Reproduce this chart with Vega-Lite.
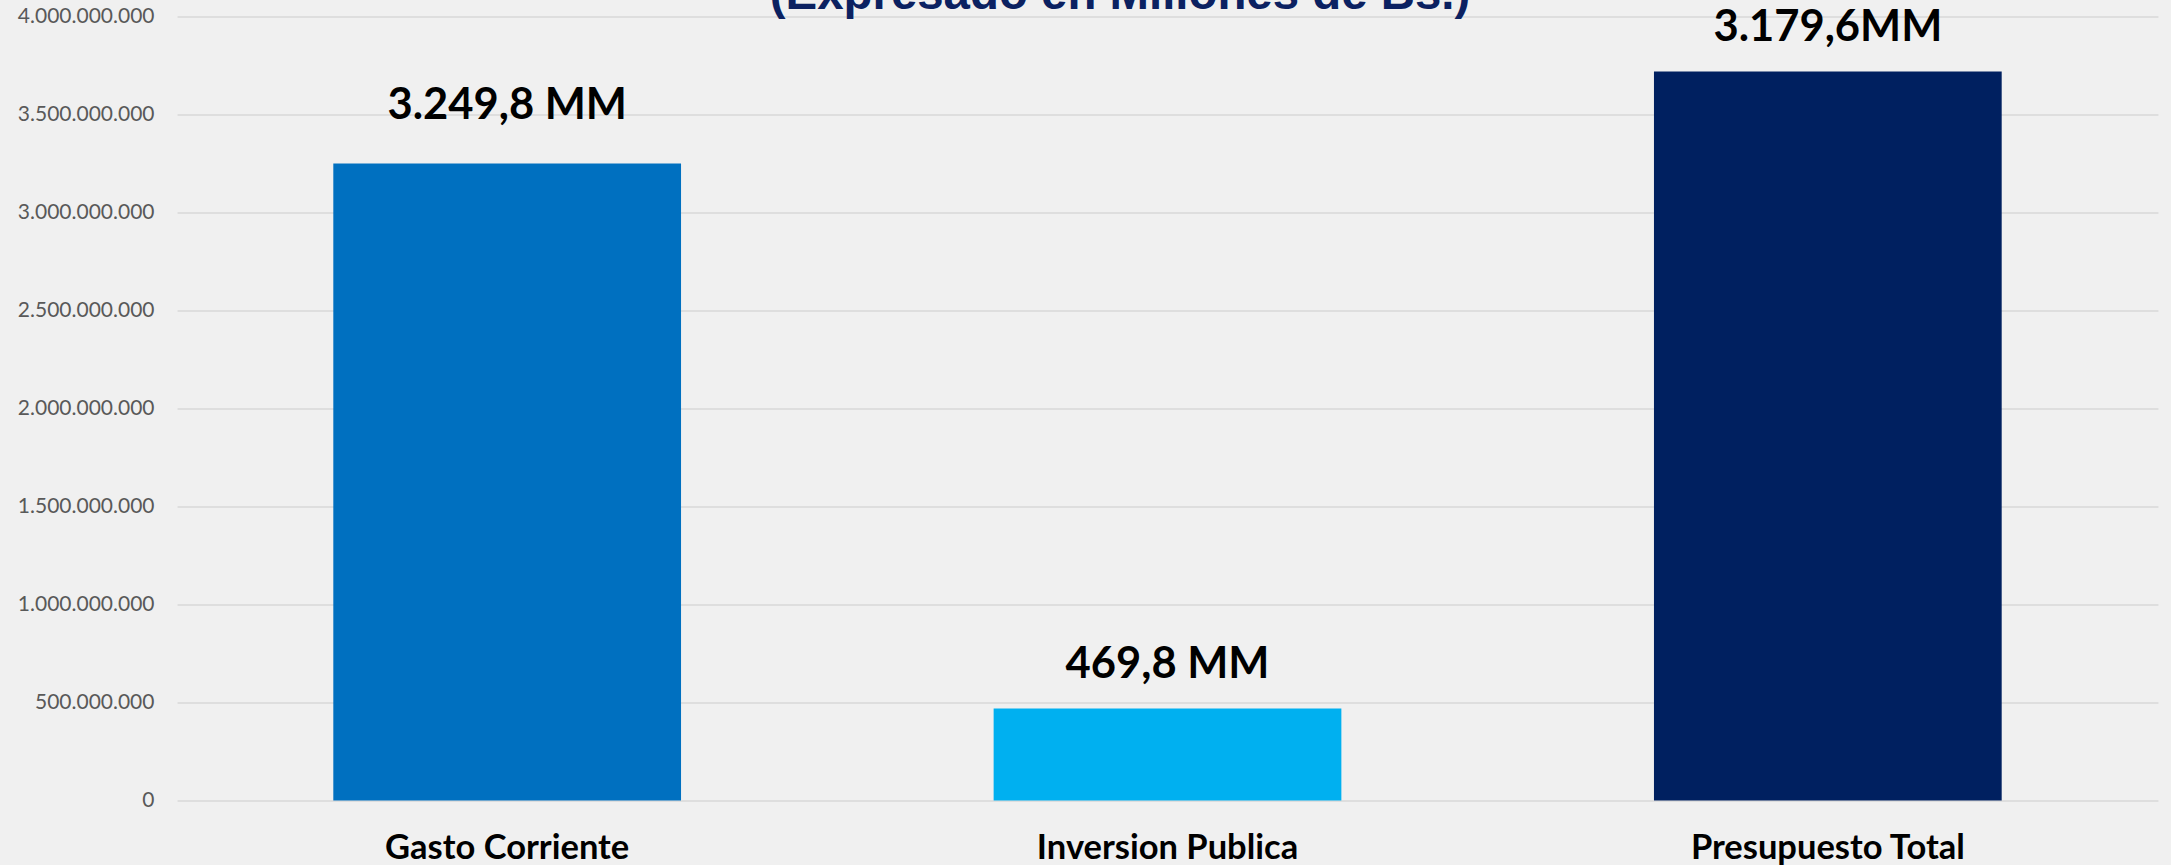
{
  "$schema": "https://vega.github.io/schema/vega-lite/v6.json",
  "autosize": {"type": "none"},
  "width": 1981,
  "height": 784,
  "padding": {"left": 177, "top": 16.5, "right": 13, "bottom": 64.5},
  "background": "#F0F0F0",
  "datasets": {
    "titulo": [{"texto": "(Expresado en Millones de Bs.)", "categoria": "Inversion Publica", "nivel": 4000000000}]
  },
  "data": {
    "values": [
      {"categoria": "Gasto Corriente", "monto": 3249800000, "etiqueta": "3.249,8 MM"},
      {"categoria": "Inversion Publica", "monto": 469800000, "etiqueta": "469,8 MM"},
      {"categoria": "Presupuesto Total", "monto": 3719600000, "etiqueta": "3.179,6MM"}
    ]
  },
  "encoding": {
    "x": {
      "field": "categoria",
      "type": "nominal",
      "sort": null,
      "scale": {"paddingInner": 0.4734, "paddingOuter": 0.2367},
      "axis": {
        "title": null,
        "domain": false,
        "ticks": false,
        "tickSize": 0,
        "grid": false,
        "labelAngle": 0,
        "labelFont": "Lato",
        "labelFontWeight": "bold",
        "labelFontSize": 34.5,
        "labelColor": "#000000",
        "labelPadding": 58,
        "labelBaseline": "alphabetic",
        "labelLimit": 0
      }
    },
    "y": {
      "field": "monto",
      "type": "quantitative",
      "scale": {"domain": [0, 4000000000], "nice": false},
      "axis": {
        "title": null,
        "domain": false,
        "ticks": false,
        "tickSize": 0,
        "grid": true,
        "gridColor": "#D9D9D9",
        "gridWidth": 1.6,
        "values": [0, 500000000, 1000000000, 1500000000, 2000000000, 2500000000, 3000000000, 3500000000, 4000000000],
        "format": ",d",
        "labelFont": "Lato",
        "labelFontSize": 21,
        "labelColor": "#595959",
        "labelPadding": 23
      }
    }
  },
  "layer": [
    {
      "mark": {"type": "bar"},
      "encoding": {
        "color": {
          "field": "categoria",
          "type": "nominal",
          "scale": {
            "domain": ["Gasto Corriente", "Inversion Publica", "Presupuesto Total"],
            "range": ["#0070C0", "#00B0F0", "#002060"]
          },
          "legend": null
        }
      }
    },
    {
      "transform": [{"filter": "datum.categoria === 'Gasto Corriente'"}],
      "mark": {"type": "text", "dy": -45, "baseline": "alphabetic", "align": "center", "font": "Lato", "fontWeight": "bold", "fontSize": 43.5, "color": "#000000"},
      "encoding": {"text": {"field": "etiqueta", "type": "nominal"}}
    },
    {
      "transform": [{"filter": "datum.categoria !== 'Gasto Corriente'"}],
      "mark": {"type": "text", "dy": -30, "baseline": "alphabetic", "align": "center", "font": "Lato", "fontWeight": "bold", "fontSize": 43.5, "color": "#000000"},
      "encoding": {"text": {"field": "etiqueta", "type": "nominal"}}
    },
    {
      "data": {"name": "titulo"},
      "mark": {"type": "text", "dx": -47.5, "dy": -7.5, "baseline": "alphabetic", "align": "center", "font": "Liberation Sans", "fontWeight": "bold", "fontSize": 47.4, "color": "#0B2161", "clip": false},
      "encoding": {
        "x": {"field": "categoria", "type": "nominal"},
        "y": {"field": "nivel", "type": "quantitative"},
        "text": {"field": "texto", "type": "nominal"}
      }
    }
  ],
  "config": {
    "view": {"stroke": null},
    "locale": {
      "number": {"decimal": ",", "thousands": ".", "grouping": [3], "currency": ["", ""]}
    }
  }
}
